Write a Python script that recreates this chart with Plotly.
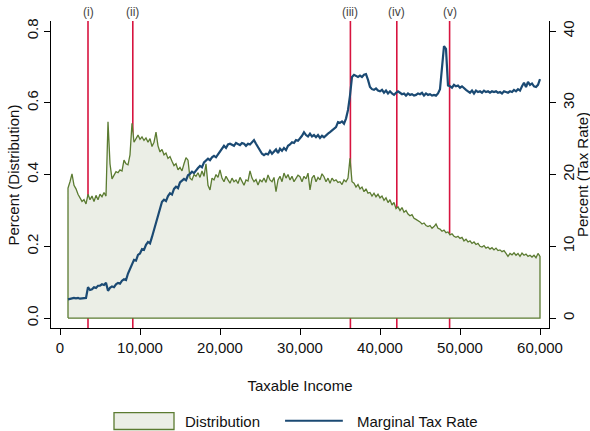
import plotly.graph_objects as go

# ---------------- data ----------------
income = list(range(1000, 60001, 250))

distribution = (
    # 1000 - 4750
    [0.362, 0.380, 0.402, 0.370, 0.360, 0.345, 0.335, 0.325, 0.330, 0.318, 0.345, 0.330, 0.340, 0.325, 0.342, 0.330]
    # 5000 - 9750
    + [0.345, 0.338, 0.350, 0.340, 0.547, 0.430, 0.388, 0.400, 0.408, 0.405, 0.413, 0.410, 0.440, 0.430, 0.427, 0.455, 0.543, 0.490, 0.500, 0.510]
    # 10000 - 14750
    + [0.498, 0.505, 0.495, 0.502, 0.490, 0.500, 0.478, 0.490, 0.518, 0.480, 0.463, 0.470, 0.455, 0.460, 0.445, 0.450, 0.437, 0.425, 0.430, 0.413]
    # 15000 - 19750
    + [0.420, 0.410, 0.430, 0.447, 0.440, 0.390, 0.385, 0.400, 0.395, 0.405, 0.392, 0.410, 0.395, 0.430, 0.370, 0.357, 0.390, 0.385, 0.400, 0.392]
    # 20000 - 24750
    + [0.413, 0.390, 0.380, 0.395, 0.385, 0.376, 0.390, 0.380, 0.385, 0.375, 0.392, 0.380, 0.370, 0.385, 0.382, 0.410, 0.390, 0.380, 0.386, 0.371]
    # 25000 - 29750
    + [0.385, 0.380, 0.390, 0.378, 0.399, 0.385, 0.380, 0.392, 0.352, 0.385, 0.395, 0.380, 0.404, 0.390, 0.400, 0.385, 0.395, 0.380, 0.390, 0.398]
    # 30000 - 34750
    + [0.394, 0.380, 0.395, 0.388, 0.404, 0.357, 0.390, 0.398, 0.380, 0.392, 0.385, 0.402, 0.394, 0.380, 0.390, 0.376, 0.390, 0.382, 0.385, 0.378]
    # 35000 - 39750
    + [0.380, 0.372, 0.385, 0.380, 0.390, 0.445, 0.380, 0.376, 0.365, 0.372, 0.360, 0.365, 0.352, 0.360, 0.348, 0.350, 0.340, 0.348, 0.338, 0.345]
    # 40000 - 44750
    + [0.335, 0.340, 0.328, 0.335, 0.322, 0.330, 0.315, 0.322, 0.305, 0.310, 0.300, 0.308, 0.295, 0.300, 0.290, 0.285, 0.288, 0.278, 0.275, 0.272]
    # 45000 - 49750
    + [0.268, 0.262, 0.265, 0.258, 0.255, 0.258, 0.250, 0.255, 0.262, 0.250, 0.248, 0.242, 0.245, 0.238, 0.240, 0.232, 0.235, 0.228, 0.225, 0.228]
    # 50000 - 54750
    + [0.222, 0.225, 0.215, 0.220, 0.212, 0.215, 0.208, 0.212, 0.205, 0.208, 0.200, 0.198, 0.202, 0.195, 0.198, 0.192, 0.196, 0.190, 0.195, 0.188]
    # 55000 - 60000
    + [0.190, 0.185, 0.188, 0.180, 0.172, 0.180, 0.176, 0.182, 0.175, 0.180, 0.172, 0.181, 0.175, 0.178, 0.172, 0.175, 0.170, 0.175, 0.168, 0.180, 0.172]
)

tax_rate = (
    # 1000 - 4750
    [2.6, 2.7, 2.7, 2.8, 2.75, 2.8, 2.7, 2.75, 2.8, 2.8, 4.3, 3.9, 4.0, 4.3, 4.2, 4.5]
    # 5000 - 9750
    + [4.5, 4.7, 4.6, 4.9, 3.8, 4.2, 4.4, 4.3, 4.7, 4.9, 4.8, 5.2, 5.4, 5.3, 6.2, 6.9, 7.6, 8.1, 8.0, 8.8]
    # 10000 - 14750
    + [9.0, 9.6, 9.5, 10.2, 10.6, 10.4, 11.3, 12.3, 13.4, 14.3, 15.2, 16.2, 16.5, 16.3, 17.0, 17.4, 17.2, 18.0, 18.3, 18.1]
    # 15000 - 19750
    + [18.9, 19.1, 19.4, 19.2, 19.9, 20.1, 20.4, 20.2, 20.6, 20.9, 21.2, 21.0, 21.7, 21.9, 22.2, 22.0, 22.4, 22.6, 22.4, 22.8]
    # 20000 - 24750
    + [23.2, 23.7, 24.0, 23.7, 24.2, 24.3, 24.1, 24.0, 24.4, 24.2, 24.1, 24.4, 24.3, 24.0, 24.3, 24.2, 24.5, 24.8, 24.3, 23.8]
    # 25000 - 29750
    + [23.2, 22.9, 22.7, 22.9, 22.8, 23.3, 22.9, 23.2, 23.5, 23.0, 23.6, 23.3, 23.7, 23.4, 24.0, 24.2, 24.5, 24.4, 24.8, 24.7]
    # 30000 - 34750
    + [25.0, 25.4, 25.9, 25.5, 25.3, 25.7, 25.3, 25.5, 25.2, 25.5, 25.1, 25.4, 25.2, 25.5, 25.7, 25.9, 26.1, 26.3, 26.6, 27.3]
    # 35000 - 39750
    + [27.2, 27.4, 27.1, 27.8, 29.0, 31.0, 33.6, 33.9, 33.7, 33.6, 33.8, 33.6, 33.9, 34.0, 33.2, 32.2, 31.9, 31.8, 32.0, 31.7]
    # 40000 - 44750
    + [31.6, 31.8, 31.4, 31.7, 31.3, 31.6, 31.3, 31.1, 31.4, 31.6, 31.4, 31.2, 31.3, 31.0, 31.3, 31.1, 31.2, 31.0, 31.1, 31.3]
    # 45000 - 49750
    + [31.2, 31.4, 31.0, 31.3, 31.1, 31.2, 31.0, 31.1, 31.0, 31.3, 31.9, 35.5, 37.9, 37.5, 32.4, 32.3, 32.1, 32.5, 32.3, 32.4]
    # 50000 - 54750
    + [32.1, 32.3, 32.0, 31.8, 31.6, 31.4, 31.7, 31.3, 31.7, 31.5, 31.6, 31.4, 31.7, 31.5, 31.6, 31.4, 31.6, 31.5, 31.6, 31.4]
    # 55000 - 60000
    + [31.5, 31.3, 31.6, 31.5, 31.4, 31.6, 31.5, 31.8, 31.6, 31.9, 31.7, 32.3, 32.8, 32.2, 32.9, 32.5, 32.7, 32.3, 32.2, 32.5, 33.3]
)

bracket_income = [3500, 9100, 36300, 42100, 48700]
bracket_labels = ["(i)", "(ii)", "(iii)", "(iv)", "(v)"]

x_ticks = [0, 10000, 20000, 30000, 40000, 50000, 60000]
left_ticks = [0.0, 0.2, 0.4, 0.6, 0.8]
right_ticks = [0, 10, 20, 30, 40]

assert len(distribution) == len(income) and len(tax_rate) == len(income)

# ---------------- styles ----------------
FONT = "Liberation Sans, Arial, Helvetica, sans-serif"
GREEN = "#5b7b31"
FILL = "#ebeee6"
BLUE = "#1b4a73"
RED = "#d7143f"

fill_x = [income[0]] + income + [income[-1], income[0]]
fill_y = [0] + distribution + [0, 0]

fig = go.Figure()
fig.add_trace(go.Scatter(
    x=fill_x, y=fill_y, mode="lines", fill="toself", fillcolor=FILL,
    line=dict(color=GREEN, width=1.3), name="Distribution", showlegend=False,
))
fig.add_trace(go.Scatter(
    x=income, y=tax_rate, yaxis="y2", mode="lines",
    line=dict(color=BLUE, width=2.2), name="Marginal Tax Rate", showlegend=False,
))

for bx, lab in zip(bracket_income, bracket_labels):
    fig.add_shape(type="line", xref="x", yref="paper", x0=bx, x1=bx, y0=0, y1=1,
                  line=dict(color=RED, width=1.6), layer="below")
    fig.add_annotation(x=bx, xref="x", y=1, yref="paper", yanchor="bottom",
                       text=lab, showarrow=False, font=dict(size=12, color="#444444"))

# manual legend
fig.add_shape(type="rect", xref="paper", yref="paper", x0=0.1265, x1=0.247, y0=-0.3306, y1=-0.2754,
              fillcolor=FILL, line=dict(color=GREEN, width=1.3))
fig.add_annotation(x=0.265, y=-0.3046, xref="paper", yref="paper", xanchor="left", yanchor="middle",
                   text="Distribution", showarrow=False, font=dict(size=15, color="#111111"))
fig.add_shape(type="line", xref="paper", yref="paper", x0=0.470, x1=0.586, y0=-0.302, y1=-0.302,
              line=dict(color=BLUE, width=2))
fig.add_annotation(x=0.610, y=-0.3046, xref="paper", yref="paper", xanchor="left", yanchor="middle",
                   text="Marginal Tax Rate", showarrow=False, font=dict(size=15, color="#111111"))

# axis titles placed as rotated text
fig.add_annotation(x=-0.0743, y=0.5, xref="paper", yref="paper", xanchor="center", yanchor="middle",
                   text="Percent (Distribution)", textangle=-90, showarrow=False,
                   font=dict(size=15, color="#111111"))
fig.add_annotation(x=1.0673, y=0.5, xref="paper", yref="paper", xanchor="center", yanchor="middle",
                   text="Percent (Tax Rate)", textangle=-90, showarrow=False,
                   font=dict(size=15, color="#111111"))

axis_common = dict(showline=True, linecolor="black", linewidth=1, ticks="outside", ticklen=6,
                   tickcolor="black", showgrid=False, zeroline=False, automargin=False,
                   tickfont=dict(size=15, color="#111111"))

fig.update_layout(
    width=590, height=431,
    margin=dict(l=51, r=41, t=21, b=103),
    paper_bgcolor="white", plot_bgcolor="white",
    font=dict(family=FONT, size=15, color="#111111"),
    showlegend=False,
    xaxis=dict(range=[-1125, 61125], tickvals=x_ticks, tickformat=",d",
               title=dict(text="Taxable Income", standoff=25, font=dict(size=15)),
               **axis_common),
    yaxis=dict(range=[-0.0278, 0.828], tickvals=left_ticks, tickformat=".1f", tickangle=-90,
               **axis_common),
    yaxis2=dict(range=[-1.39, 41.4], tickvals=right_ticks, tickangle=-90, overlaying="y", side="right",
                **axis_common),
)

fig.write_html("out.html")
